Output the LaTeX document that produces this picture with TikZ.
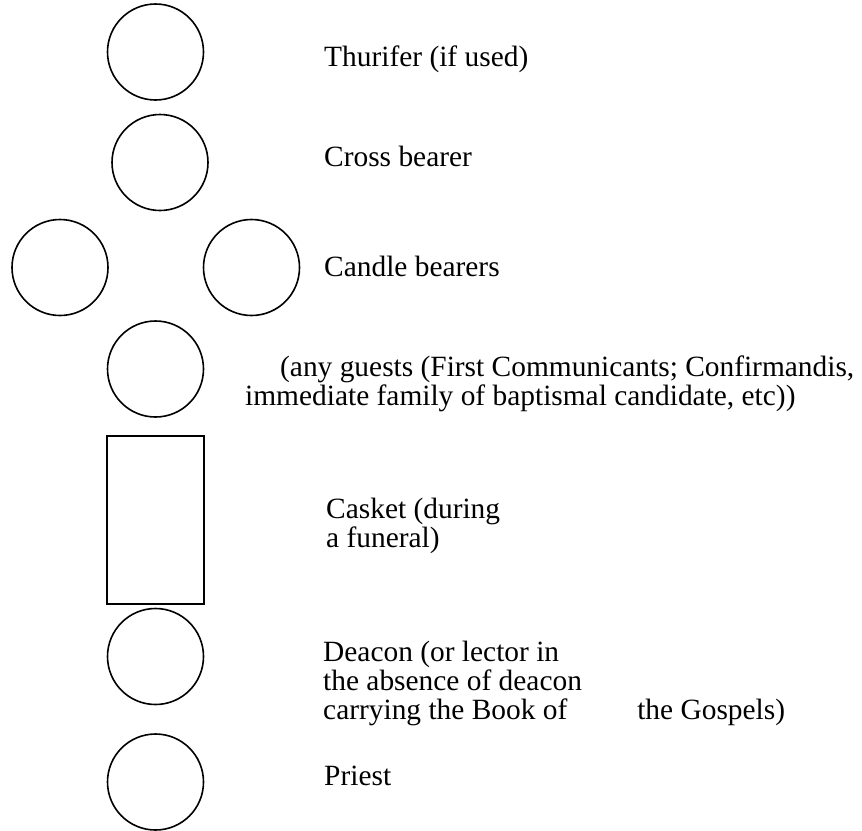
\documentclass[tikz,border=0pt]{standalone}
\usepackage{fontspec}
\setmainfont{Liberation Serif}
\begin{document}
\begin{tikzpicture}[x=1pt,y=-1pt,
  person/.style={draw=black,line width=1.6pt,circle,minimum size=96pt,inner sep=0pt},
  casketbox/.style={draw=black,line width=1.6pt,rectangle,minimum width=97pt,minimum height=168pt,inner sep=0pt},
  label/.style={anchor=base west,inner sep=0pt,align=left,font=\fontsize{29.4pt}{29pt}\selectfont}]
\useasboundingbox (0,0) rectangle (862,830);
\node[person] (thurifer) at (155.5,52) {};
\node[person] (cross) at (160,162.5) {};
\node[person] (candleL) at (60,267.5) {};
\node[person] (candleR) at (251.5,267.5) {};
\node[person] (guests) at (155.5,369) {};
\node[casketbox] (casket) at (155.5,520) {};
\node[person] (deacon) at (155.5,656.5) {};
\node[person] (priest) at (155.5,782) {};

\node[label] (tThurifer) at (324,66) {Thurifer (if used)};
\node[label] (tCross) at (324,166) {Cross bearer};
\node[label] (tCandle) at (324,276.5) {Candle bearers};
\node[label] (tGuests) at (245,405) {\hspace*{35pt}(any guests (First Communicants; Confirmandis,\\immediate family of baptismal candidate, etc))};
\node[label] (tCasket) at (326,547) {Casket (during\\a funeral)};
\node[label] (tDeacon) at (323,719) {Deacon (or lector in\\the absence of deacon\\carrying the Book of\hspace{70pt}the Gospels)};
\node[label] (tPriest) at (324,785) {Priest};
\end{tikzpicture}
\end{document}
